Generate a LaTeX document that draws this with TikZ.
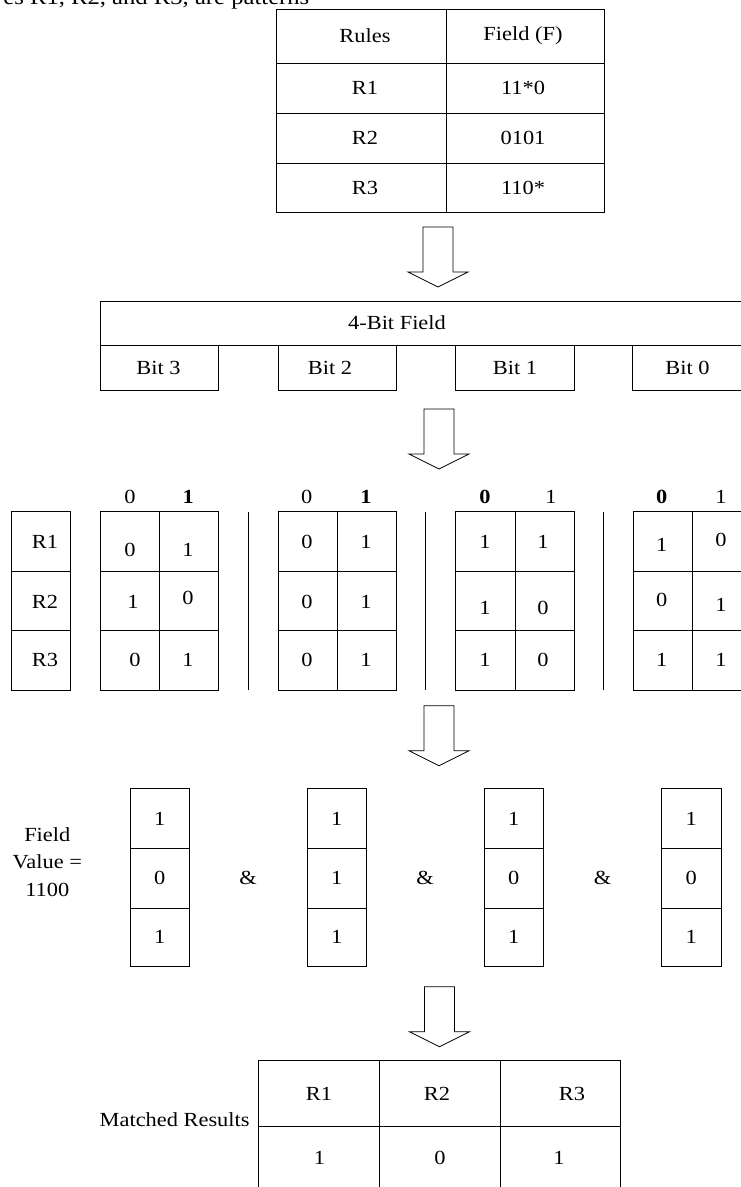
\documentclass[tikz,border=0pt]{standalone}
\usepackage{fontspec}
\setmainfont{Liberation Serif}[FakeStretch=1.12]
% hollow block arrow pointing down: centre x, top y
\newcommand\blockarrowdown[2]{%
  \draw ({#1-15},{#2}) -- ({#1+15},{#2}) -- ({#1+15},{#2+45}) -- ({#1+30},{#2+45})
        -- ({#1},{#2+60}) -- ({#1-30},{#2+45}) -- ({#1-15},{#2+45}) -- cycle;}
\begin{document}
\begin{tikzpicture}[x=1pt,y=-1pt,line width=0.8pt,
  lbl/.style={font=\fontsize{20}{24}\selectfont, inner sep=0pt},
  hdr/.style={font=\fontsize{20}{24}\selectfont\bfseries, inner sep=0pt}]
\useasboundingbox (0,0) rectangle (741,1187);
\clip (0,0) rectangle (741,1187);

% tail of the preceding text line
\node[font=\fontsize{22}{26}\selectfont, inner sep=0pt, anchor=base west] (intro) at (3,4)
  {es R1, R2, and R3, are patterns};

% rule table
\draw (276,9.5) rectangle (604,212);
\draw (446,9.5) -- (446,212);
\foreach \y in {63,113,163} \draw (276,\y) -- (604,\y);
\node[lbl] (rules) at (365,36) {Rules};
\node[lbl] (field) at (523,36) {Field (F)};
\foreach \y/\r/\f [count=\i] in {88/R1/11*0, 138/R2/0101, 187.5/R3/110*} {
  \node[lbl] (r\i) at (365,\y) {\r};
  \node[lbl] (f\i) at (523,\y) {\f};
}

\blockarrowdown{438}{227}

% 4-bit field split into bits
\draw (100,390) -- (100,301.7) -- (760,301.7);
\draw (100,345) -- (760,345);
\draw (100,390) -- (218.6,390) -- (218.6,345);
\draw (278,345) -- (278,390) -- (396,390) -- (396,345);
\draw (455,345) -- (455,390) -- (574.6,390) -- (574.6,345);
\draw (632.7,345) -- (632.7,390) -- (760,390);
\node[lbl] (fourbit) at (397,323) {4-Bit Field};
\node[lbl] (b3) at (158.5,368) {Bit 3};
\node[lbl] (b2) at (330,368) {Bit 2};
\node[lbl] (b1) at (515,368) {Bit 1};
\node[lbl] (b0) at (687.5,368) {Bit 0};

\blockarrowdown{439}{409}

% per-bit lookup tables
\draw (11.7,511.7) rectangle (70.7,690.2);
\foreach \y in {571.2,630.7} \draw (11.7,\y) -- (70.7,\y);
\node[lbl] (lr1) at (45,541.7) {R1};
\node[lbl] (lr2) at (45,601.7) {R2};
\node[lbl] (lr3) at (45,660) {R3};
\foreach \l in {100,278.3,455.7,633.3} {
  \draw (\l,511.7) rectangle ({\l+118.5},690.2);
  \draw ({\l+59.2},511.7) -- ({\l+59.2},690.2);
  \foreach \y in {571.2,630.7} \draw (\l,\y) -- ({\l+118.5},\y);
}
\foreach \x in {248.3,425.7,603.3} \draw (\x,511.7) -- (\x,690.2);
\node[lbl] (h10) at (130,496.5) {0};
\node[hdr] (h11) at (188.3,496.5) {1};
\node[lbl] (h20) at (306.7,496.5) {0};
\node[hdr] (h21) at (366,496.5) {1};
\node[hdr] (h30) at (485,496.5) {0};
\node[lbl] (h31) at (551,496.5) {1};
\node[hdr] (h40) at (661.7,496.5) {0};
\node[lbl] (h41) at (721,496.5) {1};
\foreach \x/\y/\t [count=\i] in {130/550/0, 188/550/1, 133/601.7/1, 188/598/0, 135/660/0, 188/660/1,
    307/541.7/0, 366/541.7/1, 307/601.7/0, 366/601.7/1, 307/660/0, 366/660/1,
    485/541.7/1, 543/541.7/1, 485/608.3/1, 543/608.3/0, 485/660/1, 543/660/0,
    661.7/545/1, 721/540/0, 661.7/600/0, 721/605/1, 661.7/660/1, 721/660/1}
  \node[lbl] (m\i) at (\x,\y) {\t};

\blockarrowdown{439}{705.7}

% selected columns for field value 1100
\node[font=\fontsize{20}{27.5}\selectfont, inner sep=0pt, align=center] (fv) at (47.3,862)
  {Field\\Value =\\1100};
\foreach \l/\a/\b/\c [count=\i] in {130/1/0/1, 307/1/1/1, 484/1/0/1, 661.6/1/0/1} {
  \draw (\l,788.3) rectangle ({\l+59.5},966.7);
  \foreach \y in {848.3,908.3} \draw (\l,\y) -- ({\l+59.5},\y);
  \node[lbl] (c\i a) at ({\l+29.7},819) {\a};
  \node[lbl] (c\i b) at ({\l+29.7},878) {\b};
  \node[lbl] (c\i c) at ({\l+29.7},937) {\c};
}
\node[lbl] (and1) at (248,878) {\&};
\node[lbl] (and2) at (425,878) {\&};
\node[lbl] (and3) at (602.6,878) {\&};

\blockarrowdown{439.5}{986.7}

% matched results
\draw (258.5,1220) -- (258.5,1060) -- (620,1060) -- (620,1220);
\draw (379.5,1060) -- (379.5,1220);
\draw (500,1060) -- (500,1220);
\draw (258.5,1126) -- (620,1126);
\node[lbl, anchor=east] (mr) at (250,1120) {Matched Results};
\node[lbl] (o1) at (319,1094) {R1};
\node[lbl] (o2) at (437,1094) {R2};
\node[lbl] (o3) at (572,1094) {R3};
\node[lbl] (v1) at (319.5,1158) {1};
\node[lbl] (v2) at (440,1158) {0};
\node[lbl] (v3) at (559,1158) {1};
\end{tikzpicture}
\end{document}
